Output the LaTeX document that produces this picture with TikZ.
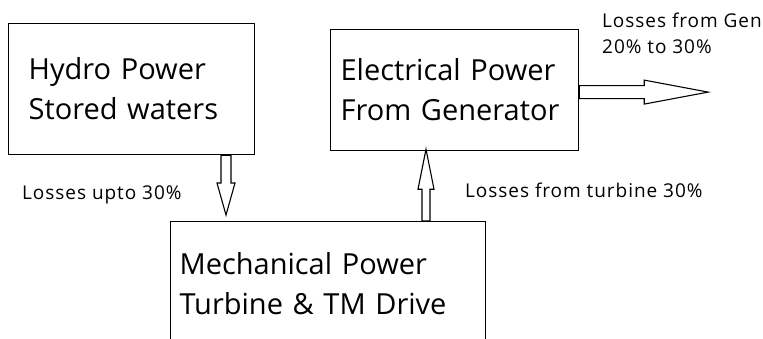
\documentclass[tikz,border=0pt]{standalone}
\usepackage{fontspec}
\setmainfont{Open Sans}
\newfontfamily\tagfont[LetterSpace=5]{Open Sans}
\usetikzlibrary{positioning,calc}

\newcommand{\hollowarrow}[5]{%
  \coordinate (hb) at ($(#2)!#5!(#1)$);
  \draw[flow] ($(#1)!#3!90:(#2)$) -- ($(hb)!#3!90:(#2)$) -- ($(hb)!#4!90:(#2)$) -- (#2)
    -- ($(hb)!#4!-90:(#2)$) -- ($(hb)!#3!-90:(#2)$) -- ($(#1)!#3!-90:(#2)$) -- cycle;
}

\begin{document}
\begin{tikzpicture}[
    x=1pt, y=-1pt,
    box/.style={rectangle, draw, line width=1.2pt, anchor=north west, align=left, inner ysep=0pt, font=\fontsize{29}{40}\selectfont},
    tag/.style={anchor=base west, inner sep=0pt, font=\tagfont\fontsize{19}{26}\selectfont},
    flow/.style={line width=1.1pt, line join=miter}
]
\useasboundingbox (0,0) rectangle (763,338);
\clip (0,0) rectangle (763,338);

\node[box, inner xsep=20pt, text width=206pt, minimum height=131pt] (hydro) at (8,23) {Hydro Power\\Stored waters};
\node[box, inner xsep=10pt, text width=228pt, minimum height=121pt] (elec) at (330,29) {Electrical Power\\From Generator};
\node[box, inner xsep=9pt, text width=297pt, minimum height=125pt] (mech) at (170,221) {Mechanical Power\\Turbine \& TM Drive};

% hydro -> mechanical
\coordinate (d1) at ($(hydro.south west)+(218,0)$);
\coordinate (d2) at ($(d1 |- mech.north)+(0,-6)$);
\hollowarrow{d1}{d2}{5pt}{9pt}{32pt}

% mechanical -> electrical
\coordinate (u1) at ($(mech.north west)+(256,0)$);
\coordinate (u2) at ($(u1 |- elec.south)+(0,-2)$);
\hollowarrow{u1}{u2}{4pt}{8pt}{40pt}

% generator losses
\coordinate (r1) at ($(elec.east)+(0,2)$);
\coordinate (r2) at ($(r1)+(129,0)$);
\hollowarrow{r1}{r2}{6.5pt}{12pt}{64pt}

\node[tag] (lossin) at (22,199) {Losses upto 30\%};
\node[tag] (lossturb) at (465,197) {Losses from turbine 30\%};
\node[tag] (lossgen) at (602,27) {Losses from Gen};
\node[tag] (lossrange) at (602,53) {20\% to 30\%};

\end{tikzpicture}
\end{document}
